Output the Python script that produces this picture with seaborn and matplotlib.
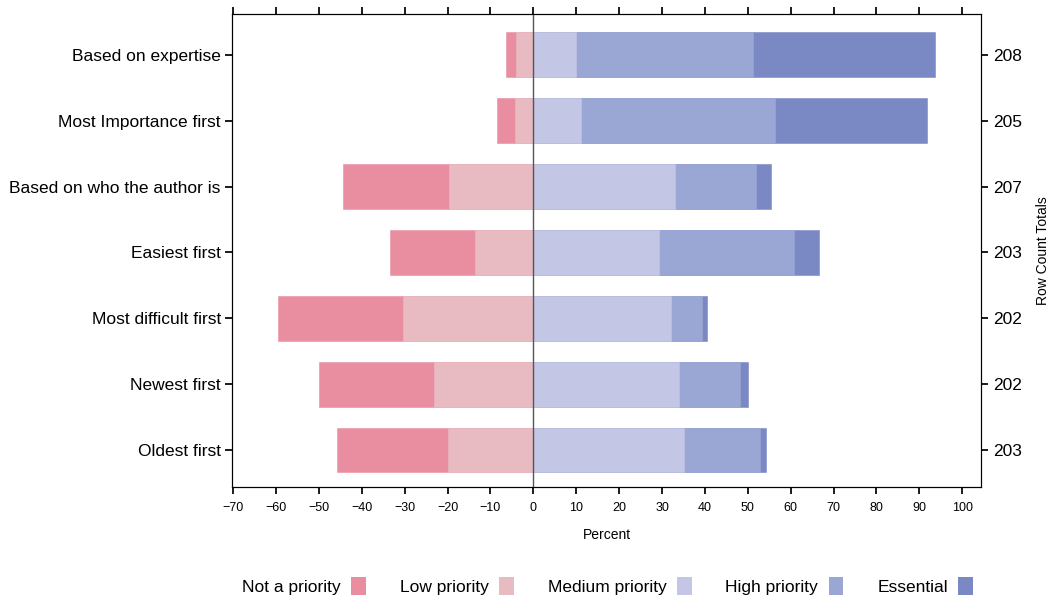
import pandas as pd
import seaborn as sns
import numpy as np
import matplotlib.pyplot as plt
from matplotlib.patches import Patch

questions = ["Based on expertise", "Most Importance first", "Based on who the author is",
             "Easiest first", "Most difficult first", "Newest first", "Oldest first"]
levels = ["Not a priority", "Low priority", "Medium priority", "High priority", "Essential"]
not_priority = [2.3, 4.1, 24.8, 19.8, 29.1, 26.9, 25.8]
low_priority = [4.1, 4.3, 19.7, 13.7, 30.4, 23.1, 20.0]
medium_priority = [10.0, 11.1, 33.1, 29.4, 32.0, 34.0, 35.2]
high_priority = [41.2, 45.3, 18.9, 31.5, 7.4, 14.3, 17.7]
essential = [42.5, 35.3, 3.5, 5.6, 1.2, 1.7, 1.4]
row_totals = [208, 205, 207, 203, 202, 202, 203]
colors = ["#E88EA0", "#E8BAC2", "#C3C6E4", "#9AA6D3", "#7A89C4"]

df = pd.DataFrame({"question": questions, "not": not_priority, "low": low_priority,
                   "med": medium_priority, "high": high_priority, "ess": essential})

sns.set_theme(style="white")
plt.rcParams["font.family"] = ["Liberation Sans", "DejaVu Sans"]
plt.rcParams["text.color"] = "black"
plt.rcParams["axes.labelcolor"] = "black"
plt.rcParams["xtick.color"] = "black"
plt.rcParams["ytick.color"] = "black"

fig = plt.figure(figsize=(10.51, 5.99), dpi=100)
ax = fig.add_axes([0.2207, 0.187, 0.7127, 0.7896])

# layered bars: widest first so the narrower ones sit on top
layers = [
    (-(df["not"] + df["low"]), colors[0]),
    (-df["low"], colors[1]),
    (df["med"] + df["high"] + df["ess"], colors[4]),
    (df["med"] + df["high"], colors[3]),
    (df["med"], colors[2]),
]
for vals, c in layers:
    sns.barplot(x=vals, y=df["question"], orient="h", color=c, width=0.68,
                saturation=1, edgecolor=c, linewidth=0.4, ax=ax)

ax.axvline(0, color="#555555", lw=1.0, zorder=5)
ax.set_xlim(-70.3, 104.4)
ax.set_ylim(6.56, -0.62)
ax.set_xticks(np.arange(-70, 101, 10))
ax.set_xticklabels([str(v).replace("-", "\u2212") for v in range(-70, 101, 10)], fontsize=9)
ax.set_xlabel("Percent", fontsize=10, labelpad=10)
ax.set_ylabel("")
ax.tick_params(axis="y", labelsize=12.5, length=5, left=True, pad=3)
ax.tick_params(axis="x", length=5, bottom=True, top=True, pad=6)
for s in ax.spines.values():
    s.set_color("black")
    s.set_linewidth(0.8)

ax2 = ax.twinx()
ax2.set_ylim(ax.get_ylim())
ax2.set_yticks(range(len(questions)))
ax2.set_yticklabels([str(t) for t in row_totals], fontsize=12.5)
ax2.tick_params(axis="y", length=5, right=True, pad=4)
ax2.set_ylabel("Row Count Totals", fontsize=10, labelpad=10)
for s in ax2.spines.values():
    s.set_color("black")
    s.set_linewidth(0.8)

handles = [Patch(facecolor=c, edgecolor="none") for c in colors]
fig.legend(handles, levels, loc="center", bbox_to_anchor=(0.578, 0.022), ncol=5,
           frameon=False, markerfirst=False, fontsize=12.5, handlelength=0.85,
           handleheight=1.25, columnspacing=1.95, handletextpad=0.6)

fig.savefig("out.png", dpi=100)
